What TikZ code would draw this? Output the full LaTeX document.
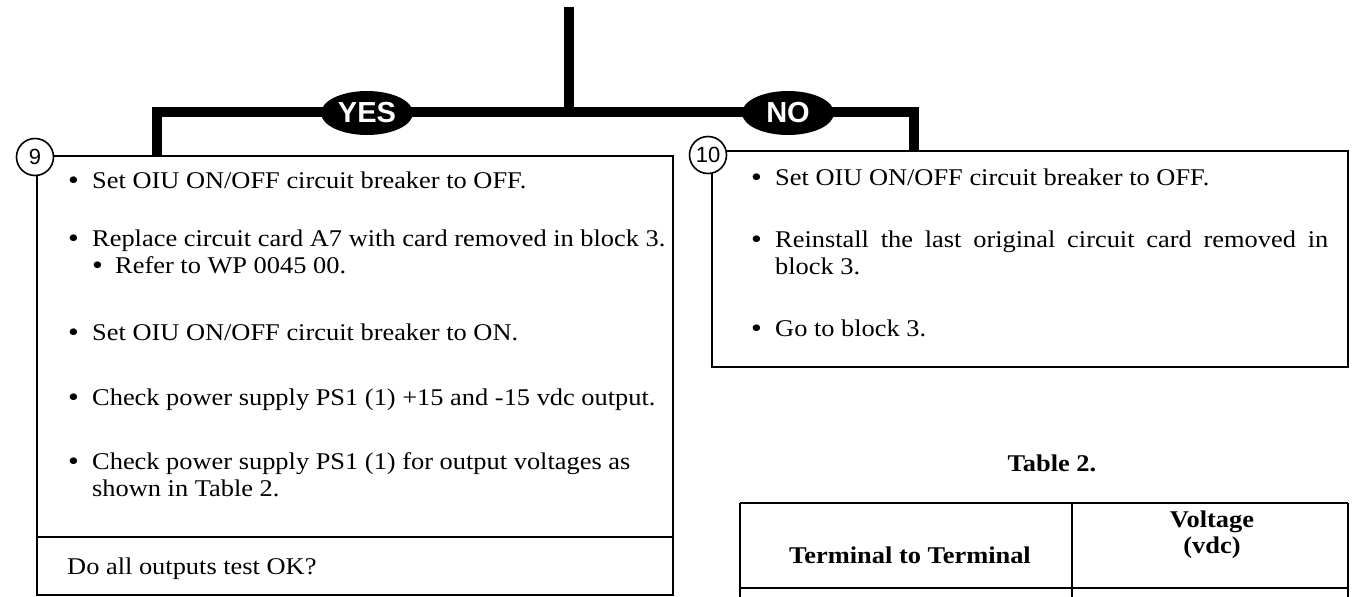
\documentclass[tikz,border=0pt]{standalone}
\usepackage{fontspec}
\setmainfont{Liberation Serif}[FakeStretch=1.1]
\setsansfont{Liberation Sans}
\usetikzlibrary{shapes.geometric}
\newcommand\bulglyph{{\fontsize{28}{28}\selectfont\raisebox{-1.5pt}{\textbullet}}}
\newcommand\bulitem{\makebox[24pt][l]{\bulglyph}}
\newcommand\subbulitem{\makebox[23pt][l]{\bulglyph}}
\begin{document}
\begin{tikzpicture}[x=1pt,y=-1pt,
  txt/.style={anchor=base west, inner sep=0, align=left, font=\fontsize{24}{27}\selectfont},
  btxt/.style={anchor=center, inner sep=0, font=\bfseries\fontsize{24}{26}\selectfont},
  lbl/.style={ellipse, fill=black, text=white, minimum width=92pt, minimum height=44pt, inner sep=0, font=\sffamily\bfseries\fontsize{29}{29}\selectfont},
  num/.style={circle, draw, fill=white, line width=1.6pt, inner sep=0, minimum size=37pt, font=\sffamily\fontsize{22}{22}\selectfont},
  box/.style={draw, line width=1.8pt, inner sep=0},
  flow/.style={line width=10pt, line join=miter},
  rule/.style={line width=1.8pt},
  trule/.style={line width=2.4pt}]
\useasboundingbox (0,0) rectangle (1353,597);
\clip (0,0) rectangle (1353,597);

% boxes
\node[box, minimum width=636pt, minimum height=439pt] (box9) at (355,375.5) {};
\node[box, minimum width=636pt, minimum height=216pt] (box10) at (1030,259) {};

% flow lines
\coordinate (start) at (569,7);
\coordinate (split) at (569,112);
\coordinate (drop9) at (157,156);
\coordinate (drop10) at (914,151);
\draw[flow] (start) -- (split);
\draw[flow] (drop9) |- (split) -| (drop10);
\node[lbl] (yes) at (367,113) {YES};
\node[lbl] (no) at (788,113) {NO};

% number circles
\node[num] (n9) at (35,157) {9};
\node[num] (n10) at (708,155) {10};

% box 9 texts (multi-line nodes: base = last line)
\node[txt] (t1) at (68,188) {\bulitem Set OIU ON/OFF circuit breaker to OFF.};
\node[txt] (t2) at (68,273) {\bulitem Replace circuit card A7 with card removed in block 3.\\
  \hspace*{24pt}\subbulitem Refer to WP 0045 00.};
\node[txt] (t4) at (68,340) {\bulitem Set OIU ON/OFF circuit breaker to ON.};
\node[txt] (t5) at (68,405) {\bulitem Check power supply PS1 (1) +15 and -15 vdc output.};
\node[txt] (t6) at (68,496) {\bulitem Check power supply PS1 (1) for output voltages as\\
  \hspace*{24pt}shown in Table 2.};
\draw[rule] (box9.west |- 0,537) -- (box9.east |- 0,537);
\node[txt] (q) at (67,574) {Do all outputs test OK?};

% box 10 texts
\node[txt] (u1) at (751,185) {\bulitem Set OIU ON/OFF circuit breaker to OFF.};
\node[txt] (u2) at (751,274) {\bulitem\makebox[553pt][s]{Reinstall the last original circuit card removed in}\\
  \hspace*{24pt}block 3.};
\node[txt] (u4) at (751,336) {\bulitem Go to block 3.};

% table
\node[btxt] (ttl) at (1052,463) {Table 2.};
\draw[trule] (740,503) -- (1348,503);
\draw[trule] (740,588) -- (1348,588);
\draw[trule] (740,503) -- (740,605);
\draw[trule] (1072,503) -- (1072,605);
\draw[trule] (1348,503) -- (1348,605);
\node[btxt] (h1) at (910,555) {Terminal to Terminal};
\node[btxt, align=center] (h2) at (1212,535) {Voltage\\(vdc)};
\end{tikzpicture}
\end{document}
